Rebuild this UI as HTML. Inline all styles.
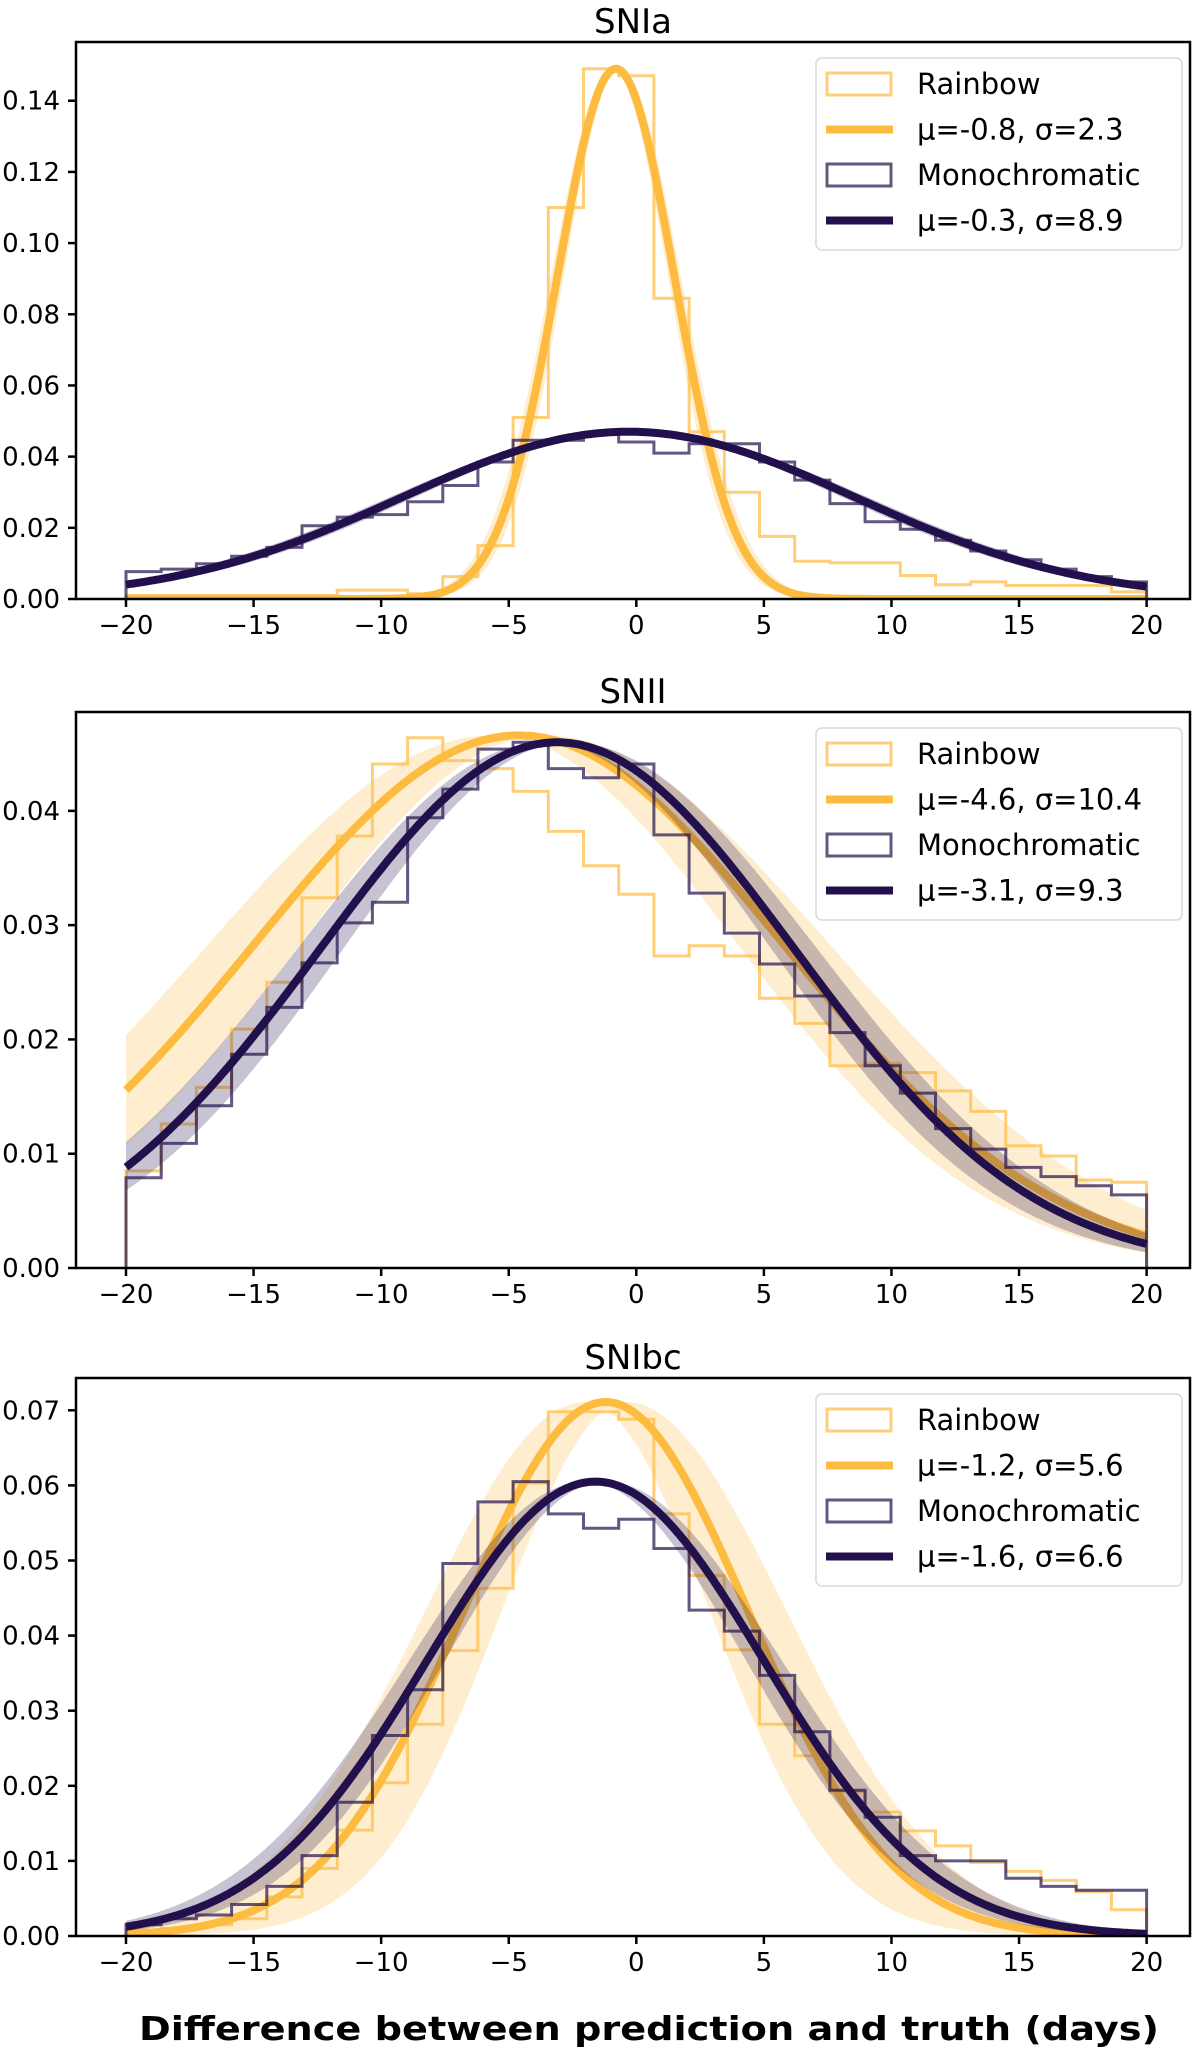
<!DOCTYPE html>
<html><head><meta charset="utf-8">
<style>
html,body{margin:0;padding:0;background:#fff;}
svg{display:block;font-family:"DejaVu Sans","Liberation Sans",sans-serif;}
</style></head>
<body>
<svg id="fig" width="1200" height="2047" viewBox="0 0 1200 2047" xmlns="http://www.w3.org/2000/svg"></svg>
<script>
// ---- data ----
const categories = ["SNIa", "SNII", "SNIbc"];
const binEdgesRange = [-20, 20];
const nBins = 29;
const rainbowHistSNIa = [0.001,0.001,0.001,0.001,0.001,0.001,0.0025,0.0025,0.0015,0.0063,0.015,0.051,0.110,0.149,0.147,0.0845,0.047,0.030,0.0176,0.0106,0.0102,0.0102,0.0066,0.004,0.0048,0.0038,0.0038,0.0038,0.002];
const monoHistSNIa = [0.0077,0.0084,0.0099,0.012,0.0145,0.0206,0.023,0.0237,0.0273,0.0319,0.0385,0.0446,0.0446,0.0467,0.0441,0.041,0.0436,0.0436,0.0385,0.0334,0.0268,0.0217,0.0196,0.0165,0.0135,0.011,0.0084,0.0063,0.0048];
const rainbowHistSNII = [0.0085,0.0126,0.0158,0.0209,0.025,0.0324,0.0378,0.0441,0.0464,0.0444,0.0437,0.0417,0.0382,0.0352,0.0327,0.0273,0.0282,0.0273,0.0236,0.0214,0.0177,0.0179,0.0171,0.0155,0.0137,0.0107,0.0098,0.0077,0.0075];
const monoHistSNII = [0.0079,0.0109,0.0142,0.0187,0.0228,0.0267,0.0302,0.032,0.0394,0.0419,0.0454,0.046,0.0437,0.0429,0.0441,0.0379,0.0328,0.0293,0.0266,0.0238,0.0206,0.0177,0.0153,0.0122,0.0104,0.0088,0.008,0.0072,0.0064];
const rainbowHistSNIbc = [0.0008,0.001,0.0015,0.0023,0.0052,0.009,0.0141,0.0204,0.0282,0.038,0.0463,0.0603,0.0698,0.0698,0.0688,0.0562,0.048,0.0381,0.0282,0.024,0.0192,0.0165,0.014,0.012,0.0098,0.0086,0.0074,0.0059,0.0035];
const monoHistSNIbc = [0.0015,0.0023,0.0028,0.0042,0.0066,0.0107,0.0178,0.0267,0.0328,0.0496,0.0578,0.0605,0.0562,0.0543,0.0555,0.0516,0.0434,0.0406,0.0347,0.0272,0.0194,0.0158,0.0107,0.01,0.01,0.0077,0.0066,0.0061,0.0061];
const rainbowMu = [-0.8, -4.6, -1.2];
const rainbowSigma = [2.3, 10.4, 5.6];
const rainbowPeak = [0.149, 0.0466, 0.0711];
const monoMu = [-0.3, -3.1, -1.6];
const monoSigma = [8.9, 9.3, 6.6];
const monoPeak = [0.047, 0.046, 0.0605];
const rainbowMuErr = [0.15, 1.0, 0.8];
const rainbowSigErr = [0.1, 0.8, 0.7];
const monoMuErr = [0.3, 0.5, 0.4];
const monoSigErr = [0.2, 0.4, 0.3];
const yTicksSNIa = [0,0.02,0.04,0.06,0.08,0.10,0.12,0.14];
const yTicksSNII = [0,0.01,0.02,0.03,0.04];
const yTicksSNIbc = [0,0.01,0.02,0.03,0.04,0.05,0.06,0.07];
const xTicks = [-20,-15,-10,-5,0,5,10,15,20];

// ---- layout ----
const NS = "http://www.w3.org/2000/svg";
const svg = document.getElementById("fig");
const panels = [
  {top:42, bottom:599, ymax:0.1565, yTicks:yTicksSNIa, rh:rainbowHistSNIa, mh:monoHistSNIa, fmt:2},
  {top:712, bottom:1268, ymax:0.04865, yTicks:yTicksSNII, rh:rainbowHistSNII, mh:monoHistSNII, fmt:2},
  {top:1378, bottom:1936, ymax:0.0743, yTicks:yTicksSNIbc, rh:rainbowHistSNIbc, mh:monoHistSNIbc, fmt:2}
];
const L = 76, R = 1190, XMIN = -21.96, XMAX = 21.7;
const ORANGE = "#fdbb3f", DARK = "#21104c";
function el(tag, attrs, parent){ const e=document.createElementNS(NS,tag); for(const k in attrs) e.setAttribute(k,attrs[k]); (parent||svg).appendChild(e); return e; }
function sx(v){ return L + (v - XMIN) / (XMAX - XMIN) * (R - L); }
function gauss(x, mu, s, a){ return a * Math.exp(-0.5*((x-mu)/s)*((x-mu)/s)); }

panels.forEach((p, i) => {
  const sy = v => p.bottom - v / p.ymax * (p.bottom - p.top);
  const g = el("g", {});
  
  
  const clipId = "clip" + i;
  const cp = el("clipPath", {id: clipId}, g);
  el("rect", {x:L, y:p.top, width:R-L, height:p.bottom-p.top}, cp);
  const plot = el("g", {"clip-path": "url(#"+clipId+")"}, g);

  const xs = [];
  for (let k=0;k<=400;k++) xs.push(binEdgesRange[0] + (binEdgesRange[1]-binEdgesRange[0])*k/400);

  function band(mu, s, a, dmu, ds, color, op, name){
    const lo=[], hi=[];
    xs.forEach(x=>{
      let mn=Infinity, mx=-Infinity;
      [mu-dmu, mu, mu+dmu].forEach(m=>[s-ds, s, s+ds].forEach(ss=>{
        const v = gauss(x, m, ss, a); mn=Math.min(mn,v); mx=Math.max(mx,v);
      }));
      lo.push(mn); hi.push(mx);
    });
    let d = "M" + xs.map((x,k)=>sx(x).toFixed(1)+","+sy(hi[k]).toFixed(1)).join(" L");
    for (let k=xs.length-1;k>=0;k--) d += " L"+sx(xs[k]).toFixed(1)+","+sy(lo[k]).toFixed(1);
    const b = el("path", {d: d+"Z", fill: color, "fill-opacity": op, stroke: "none"}, plot);
    
    
  }
  function hist(vals, color, name){
    const w = (binEdgesRange[1]-binEdgesRange[0])/nBins;
    let d = "M"+sx(binEdgesRange[0]).toFixed(1)+","+sy(0).toFixed(1);
    vals.forEach((v,k)=>{
      const x0 = binEdgesRange[0]+k*w, x1 = x0+w;
      d += " L"+sx(x0).toFixed(1)+","+sy(v).toFixed(1)+" L"+sx(x1).toFixed(1)+","+sy(v).toFixed(1);
    });
    d += " L"+sx(binEdgesRange[1]).toFixed(1)+","+sy(0).toFixed(1);
    const h = el("path", {d, fill:"none", stroke:color, "stroke-width":3, "stroke-opacity":0.7, "stroke-linejoin":"miter"}, plot);
    
    
  }
  function fit(mu, s, a, color, name){
    const d = "M" + xs.map(x=>sx(x).toFixed(1)+","+sy(gauss(x,mu,s,a)).toFixed(1)).join(" L");
    const f = el("path", {d, fill:"none", stroke:color, "stroke-width":8, "stroke-linejoin":"round"}, plot);
    
    
  }
  band(rainbowMu[i], rainbowSigma[i], rainbowPeak[i], rainbowMuErr[i], rainbowSigErr[i], ORANGE, 0.25, "rainbow-fit-band");
  hist(p.rh, ORANGE, "rainbow-histogram");
  fit(rainbowMu[i], rainbowSigma[i], rainbowPeak[i], ORANGE, "rainbow-fit-line");
  band(monoMu[i], monoSigma[i], monoPeak[i], monoMuErr[i], monoSigErr[i], DARK, 0.25, "mono-fit-band");
  hist(p.mh, DARK, "monochromatic-histogram");
  fit(monoMu[i], monoSigma[i], monoPeak[i], DARK, "mono-fit-line");

  const fr = el("rect", {x:L, y:p.top, width:R-L, height:p.bottom-p.top, fill:"none", stroke:"#000", "stroke-width":2.5}, g);
  
  

  xTicks.forEach(t=>{
    el("line", {x1:sx(t), x2:sx(t), y1:p.bottom, y2:p.bottom+8, stroke:"#000", "stroke-width":2.5}, g);
    const tx = el("text", {x:sx(t), y:p.bottom+35, "font-size":26, "text-anchor":"middle"}, g);
    tx.textContent = (t<0 ? "\u2212"+Math.abs(t) : String(t));
    
    
  });
  p.yTicks.forEach(t=>{
    el("line", {x1:L-8, x2:L, y1:sy(t), y2:sy(t), stroke:"#000", "stroke-width":2.5}, g);
    const ty = el("text", {x:L-16, y:sy(t)+9, "font-size":26, "text-anchor":"end"}, g);
    ty.textContent = t.toFixed(p.fmt);
    
    
  });
  const tt = el("text", {x:(L+R)/2, y:p.top-9, "font-size":34, "text-anchor":"middle"}, g);
  tt.textContent = categories[i];
  
  

  const lg = el("g", {}, g);
  
  
  el("rect", {x:816, y:p.top+16, width:366, height:192, rx:6, fill:"#fff", "fill-opacity":0.8, stroke:"#d9d9d9", "stroke-width":1.5}, lg);
  const labels = ["Rainbow", "\u03bc="+rainbowMu[i].toFixed(1)+", \u03c3="+rainbowSigma[i].toFixed(1),
                  "Monochromatic", "\u03bc="+monoMu[i].toFixed(1)+", \u03c3="+monoSigma[i].toFixed(1)];
  labels.forEach((lab,k)=>{
    const cy = p.top + 42 + k*45.5;
    const col = (k<2) ? ORANGE : DARK;
    if (k%2===0) el("rect", {x:827, y:cy-11, width:64, height:22, fill:"none", stroke:col, "stroke-width":3, "stroke-opacity":0.7}, lg);
    else el("line", {x1:826, x2:893, y1:cy, y2:cy, stroke:col, "stroke-width":8}, lg);
    const lt = el("text", {x:917, y:cy+10, "font-size":29}, lg);
    lt.textContent = lab;
    
    
  });
});

const xl = el("text", {x:649, y:2040, "font-size":33, "font-weight":"bold", "text-anchor":"middle", textLength:1020, lengthAdjust:"spacingAndGlyphs"});
xl.textContent = "Difference between prediction and truth (days)";


</script>
</body></html>
